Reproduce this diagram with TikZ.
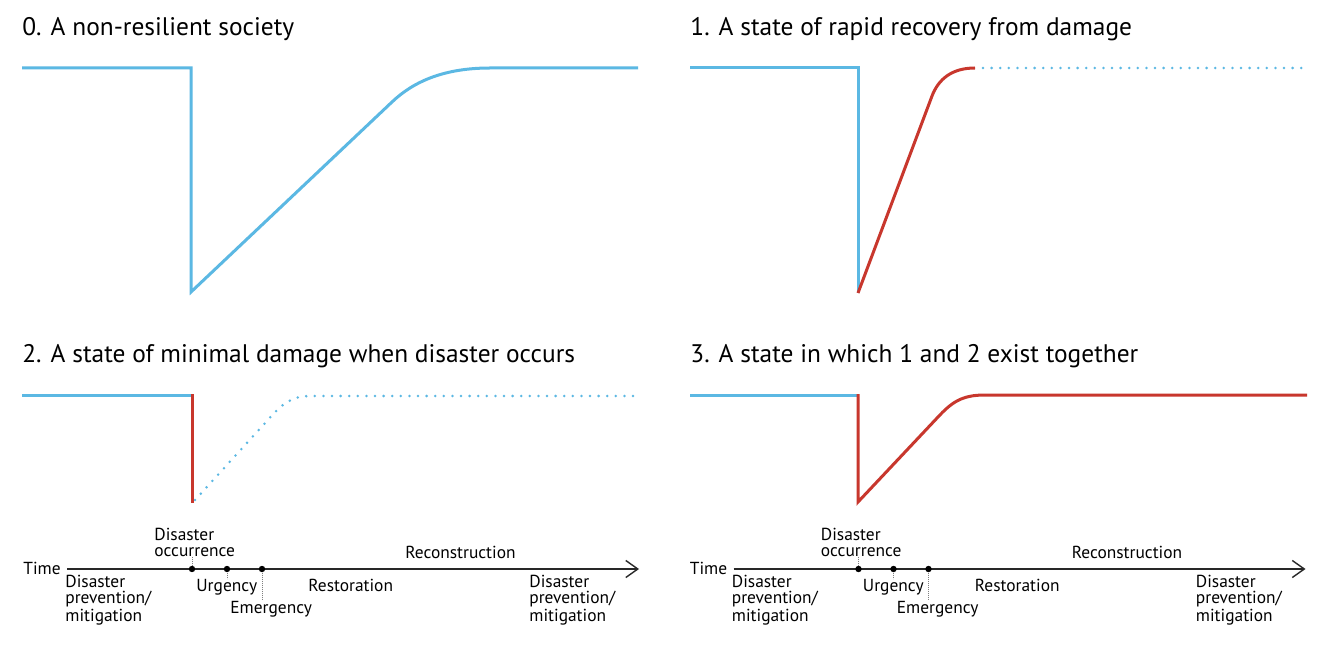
\documentclass[tikz,border=0pt]{standalone}
\usepackage{fontspec}
\setmainfont{PT Sans}
\usetikzlibrary{arrows.meta}
\definecolor{rblue}{RGB}{91,184,227}
\definecolor{rred}{RGB}{200,55,45}
\definecolor{axisgray}{RGB}{40,40,40}
\tikzset{
 bl/.style={rblue, line width=1.5pt},
 rd/.style={rred, line width=1.5pt},
 bldot/.style={rblue, line width=1.4pt, line cap=round, dash pattern=on 0pt off 4.3pt},
 ttl/.style={anchor=base west, inner sep=0pt, font=\fontsize{12.7}{14}\selectfont},
 lbl/.style={anchor=base west, inner sep=0pt, align=left, font=\fontsize{8.7}{7.7}\selectfont},
 axisline/.style={axisgray, line width=0.7pt, -{Straight Barb[length=6pt,width=8.5pt,line width=0.7pt]}},
 tickline/.style={gray, line width=0.35pt, dash pattern=on 0.6pt off 0.4pt},
 evt/.style={circle, fill=black, inner sep=0pt, minimum size=3.2pt},
}
\newcommand{\drawtimeline}[2]{%
\begin{scope}[xshift=#2]
 \node[lbl] (#1time) at (23,574.5) {Time};
 \coordinate (#1s) at (67,569);
 \coordinate (#1e) at (639,569);
 \draw[axisline] (#1s) -- (#1e);
 \node[evt] (#1d1) at (192,569) {};
 \node[evt] (#1d2) at (227,569) {};
 \node[evt] (#1d3) at (262,569) {};
 \node[lbl] (#1occ) at (154,556) {Disaster\\occurrence};
 \node[lbl] (#1dpa) at (65,621) {Disaster\\prevention/\\mitigation};
 \node[lbl] (#1urg) at (196,591) {Urgency};
 \node[lbl] (#1emg) at (230,613) {Emergency};
 \node[lbl] (#1res) at (308,591) {Restoration};
 \node[lbl] (#1rec) at (405,558.5) {Reconstruction};
 \node[lbl] (#1dpb) at (529,621) {Disaster\\prevention/\\mitigation};
 \draw[tickline] (#1occ.south -| #1d1) -- (#1d1.north);
 \draw[tickline] (#1d2.south) -- ++(0,6);
 \draw[tickline] (#1d3.south) -- (#1d3 |- #1emg.north);
\end{scope}}
\begin{document}
\begin{tikzpicture}[x=0.5pt,y=-0.5pt]
\fill[white] (0,0) rectangle (1320,646);
\useasboundingbox (0,0) rectangle (1320,646);
% titles
\node[ttl] (t0) at (22,36) {0. A non-resilient society};
\node[ttl] (t1) at (690,36) {1. A state of rapid recovery from damage};
\node[ttl] (t2) at (22,362) {2. A state of minimal damage when disaster occurs};
\node[ttl] (t3) at (690,362) {3. A state in which 1 and 2 exist together};
% panel 0
\draw[bl] (22,68) -- (191,68) -- (191,292) -- (392,102) .. controls (414,81) and (445,68) .. (490,68) -- (638,68);
% panel 1
\draw[bl] (690,68) -- (858,68) -- (858,293);
\draw[rd] (858,293) -- (932,96) .. controls (938.5,79) and (952,68) .. (975,68);
\draw[bldot] (983,68) -- (1305,68);
% panel 2
\draw[bl] (22,395) -- (192,395);
\draw[bldot] (195,500) -- (266,422) .. controls (280,406) and (290,396) .. (310,396) -- (639,396);
\draw[rd] (192,394) -- (192,503);
% panel 3
\draw[bl] (690,395) -- (858,395);
\draw[rd] (858,394) -- (858,502) -- (938,417) .. controls (952,402) and (962,395) .. (985,395) -- (1307,395);
% timelines
\drawtimeline{L}{0pt}
\drawtimeline{R}{333.25pt}
\end{tikzpicture}
\end{document}
